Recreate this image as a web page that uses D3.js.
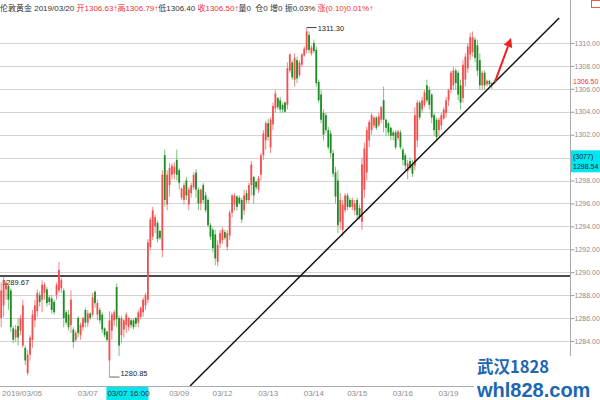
<!DOCTYPE html>
<html><head><meta charset="utf-8">
<script src="https://cdn.jsdelivr.net/npm/d3@7/dist/d3.min.js"></script>
<style>body{margin:0;background:#fff;}svg{display:block;}</style>
</head><body>
<svg id="c" width="600" height="400"></svg>
<script>
// ---- data ----
const opens = [1286.0,1287.1,1288.5,1288.8,1288.4,1285.1,1284.3,1285.3,1284.9,1283.6,1283.4,1281.2,1282.8,1284.1,1285.8,1286.6,1288.0,1287.6,1288.2,1288.5,1287.8,1287.7,1287.4,1288.0,1288.4,1288.6,1288.4,1286.5,1286.3,1285.4,1285.0,1284.1,1286.0,1284.5,1285.2,1286.7,1285.6,1286.4,1286.3,1288.3,1286.3,1286.7,1286.3,1285.1,1284.8,1282.3,1284.9,1285.8,1288.7,1286.0,1284.5,1285.0,1285.4,1285.2,1285.8,1285.8,1286.0,1285.6,1286.1,1286.5,1287.1,1287.6,1292.2,1293.1,1294.0,1294.3,1293.6,1291.9,1300.2,1295.9,1297.6,1298.5,1298.6,1299.8,1298.9,1296.5,1296.3,1298.0,1295.9,1296.9,1297.4,1298.7,1297.2,1296.0,1297.6,1296.7,1296.3,1294.1,1293.7,1293.3,1290.9,1292.5,1292.8,1293.5,1292.2,1293.2,1295.2,1295.9,1296.6,1296.5,1296.3,1295.4,1296.9,1296.3,1297.6,1298.3,1297.9,1297.2,1298.5,1300.2,1301.5,1303.0,1300.9,1302.9,1304.3,1305.2,1305.0,1304.6,1304.8,1304.6,1307.6,1308.3,1306.8,1308.5,1307.2,1308.1,1308.9,1309.4,1310.7,1309.1,1310.0,1309.4,1306.6,1305.5,1303.9,1303.7,1302.4,1302.1,1300.4,1298.7,1298.0,1294.4,1293.7,1295.4,1296.7,1296.3,1295.7,1295.4,1296.3,1295.6,1294.4,1297.2,1298.7,1301.5,1302.4,1302.8,1303.5,1302.8,1303.3,1305.0,1303.3,1303.0,1302.6,1302.2,1302.2,1301.7,1302.2,1300.7,1300.2,1298.8,1299.7,1299.4,1299.3,1301.5,1304.8,1304.2,1304.6,1306.3,1305.9,1305.5,1303.7,1303.3,1302.4,1302.8,1303.4,1303.9,1305.0,1305.9,1306.3,1307.6,1307.4,1306.3,1305.2,1306.8,1307.8,1309.0,1309.2,1310.3,1309.8,1308.5,1306.3,1307.4,1306.4,1306.7,1306.5,1306.63];
const highs = [1289.1,1289.6,1289.3,1289.0,1288.6,1285.3,1285.4,1286.0,1286.3,1287.6,1283.6,1283.2,1284.5,1286.7,1287.6,1288.5,1288.3,1289.3,1289.1,1288.7,1288.0,1288.0,1287.6,1289.1,1290.9,1289.5,1288.6,1286.7,1286.7,1288.4,1285.2,1284.9,1286.2,1285.6,1286.1,1286.9,1286.7,1286.5,1288.2,1288.4,1287.6,1286.9,1286.5,1285.2,1284.9,1286.6,1286.5,1286.7,1289.0,1286.2,1286.2,1285.9,1286.5,1286.1,1286.0,1286.0,1286.1,1286.7,1287.0,1287.8,1288.2,1292.9,1294.8,1295.7,1295.0,1294.5,1293.7,1298.9,1300.7,1298.9,1299.5,1299.5,1299.6,1300.7,1299.1,1297.4,1297.8,1298.3,1297.4,1297.8,1298.7,1299.0,1297.4,1297.3,1297.8,1297.0,1296.5,1294.3,1293.9,1293.7,1292.8,1293.7,1293.9,1293.7,1293.7,1295.4,1296.8,1296.9,1296.7,1296.7,1296.5,1297.2,1297.2,1297.8,1299.7,1298.4,1298.0,1298.4,1300.4,1302.4,1303.2,1303.4,1303.5,1304.8,1305.9,1305.3,1305.3,1304.8,1304.9,1308.3,1309.1,1308.5,1309.1,1308.8,1308.5,1309.1,1309.7,1311.3,1311.0,1309.8,1310.3,1309.7,1306.8,1305.9,1304.2,1303.9,1302.7,1302.4,1300.7,1299.2,1298.9,1296.9,1296.3,1296.9,1296.9,1296.5,1296.5,1296.3,1296.5,1295.9,1300.0,1301.3,1302.7,1303.3,1303.9,1303.6,1303.6,1303.9,1304.5,1306.2,1303.4,1303.1,1302.7,1302.4,1302.4,1302.4,1302.4,1300.9,1300.4,1299.8,1300.0,1299.8,1304.4,1305.0,1305.0,1305.3,1305.9,1306.8,1306.2,1305.6,1303.9,1303.5,1303.5,1303.9,1304.4,1305.3,1306.0,1307.6,1307.9,1307.8,1307.6,1306.8,1308.5,1309.1,1310.0,1310.9,1311.0,1310.5,1310.3,1309.1,1307.6,1307.6,1306.8,1306.8,1306.6,1306.79];
const lows = [1285.2,1286.1,1287.6,1286.7,1284.8,1283.8,1283.9,1283.6,1284.5,1283.4,1281.9,1281.0,1282.3,1283.4,1285.2,1286.1,1287.0,1286.5,1287.6,1287.0,1287.1,1286.4,1286.3,1287.6,1288.2,1288.2,1285.2,1285.4,1284.9,1284.7,1283.4,1283.9,1284.3,1284.1,1284.9,1285.2,1285.2,1285.8,1286.1,1286.9,1285.8,1285.5,1284.7,1284.3,1283.9,1280.85,1284.1,1285.3,1285.2,1282.7,1283.8,1284.3,1284.7,1284.9,1285.1,1285.0,1285.2,1285.2,1285.9,1286.1,1286.7,1287.3,1291.9,1292.8,1293.4,1292.6,1292.8,1291.3,1295.7,1295.4,1296.6,1298.1,1298.1,1298.0,1297.2,1296.3,1295.9,1296.3,1295.4,1296.5,1297.2,1296.5,1295.4,1295.4,1296.0,1295.2,1293.9,1292.8,1291.7,1290.6,1290.5,1292.1,1292.5,1292.8,1291.9,1292.8,1294.8,1295.4,1295.4,1295.9,1294.3,1295.0,1296.0,1296.0,1296.7,1296.0,1297.2,1296.9,1298.0,1299.8,1300.7,1301.5,1300.4,1302.4,1303.9,1304.2,1303.9,1303.9,1303.9,1304.2,1307.4,1306.8,1306.2,1306.5,1307.0,1307.9,1308.8,1309.1,1309.1,1308.9,1309.1,1306.2,1304.8,1303.0,1301.5,1302.1,1300.7,1300.0,1298.3,1296.0,1293.4,1293.7,1293.1,1295.2,1295.4,1295.6,1295.4,1295.0,1294.6,1294.6,1293.7,1296.5,1298.0,1300.9,1302.0,1302.6,1302.4,1302.7,1303.0,1302.2,1301.9,1301.9,1301.5,1301.5,1300.7,1301.5,1300.7,1299.3,1298.9,1298.1,1298.9,1298.3,1298.9,1300.9,1303.3,1303.9,1304.4,1304.8,1304.2,1303.0,1301.9,1301.5,1301.9,1302.4,1303.3,1303.5,1304.5,1305.6,1305.9,1305.9,1305.0,1304.2,1304.8,1306.2,1307.4,1308.5,1308.8,1308.3,1307.1,1305.9,1305.9,1305.9,1306.2,1306.2,1306.0,1306.40];
const closes = [1288.4,1289.3,1289.1,1287.6,1285.2,1284.1,1285.0,1284.3,1286.0,1287.1,1282.3,1282.8,1284.3,1286.3,1287.1,1288.2,1287.4,1288.9,1288.9,1287.3,1287.4,1286.7,1286.5,1288.9,1290.2,1289.3,1286.0,1285.6,1285.2,1287.6,1283.9,1284.7,1284.7,1285.4,1286.0,1285.6,1286.4,1286.0,1287.8,1287.3,1287.3,1285.8,1285.0,1284.5,1284.1,1285.8,1286.3,1286.5,1285.9,1283.6,1286.0,1285.8,1286.3,1286.0,1285.4,1285.2,1285.5,1286.5,1286.9,1287.6,1288.0,1292.6,1294.6,1295.4,1294.8,1292.9,1293.0,1298.5,1296.3,1298.5,1299.1,1299.3,1299.2,1298.5,1297.8,1297.3,1297.6,1296.7,1297.2,1297.6,1298.5,1297.2,1296.0,1297.2,1296.3,1295.4,1294.1,1293.1,1292.1,1291.2,1292.4,1293.4,1293.7,1293.0,1293.4,1295.2,1296.7,1296.7,1295.7,1296.0,1294.6,1296.7,1296.3,1297.6,1299.4,1296.7,1297.4,1298.2,1300.2,1302.1,1303.0,1301.8,1303.3,1304.5,1305.6,1304.4,1304.2,1304.2,1304.0,1307.8,1309.0,1307.0,1308.7,1306.9,1308.3,1309.0,1309.5,1311.0,1309.4,1309.6,1309.3,1306.5,1305.0,1303.3,1302.0,1302.4,1300.9,1300.4,1298.6,1296.6,1294.1,1296.3,1295.9,1296.7,1295.7,1295.7,1296.3,1296.0,1295.0,1294.8,1299.4,1300.8,1302.4,1303.1,1303.7,1303.5,1302.6,1303.6,1304.4,1303.3,1302.6,1302.2,1301.9,1301.9,1300.9,1302.3,1300.9,1299.8,1299.3,1299.5,1299.1,1298.6,1303.7,1304.8,1303.5,1305.0,1305.7,1305.0,1304.6,1303.5,1302.4,1301.8,1303.3,1303.7,1304.2,1305.0,1305.9,1307.4,1307.6,1306.5,1305.5,1304.8,1308.1,1308.8,1309.7,1310.5,1310.5,1308.7,1307.6,1306.3,1307.4,1306.3,1306.7,1306.4,1306.3,1306.50];

const yTicks = [1284,1286,1288,1290,1292,1294,1296,1298,1300,1302,1304,1306,1308,1310];
const xTickIdx = [0,31,69,87,106,125,143,162,181];
const xTickLabels = ["2019/03/05","03/07","03/09","03/12","03/13","03/14","03/15","03/16","03/19"];
const slotCount = 237;
const levelPrice = 1289.67;
const trendIdx = [78.5, 232.0];
const trendPrice = [1280.07, 1312.18];
const arrowIdx = [205.3, 212.0];
const arrowPrice = [1306.6, 1310.44];
const cursorIdx = 45;
const cursorLabel = "03/07 16:00";
const lastPrice = 1306.50;
const infoCount = "(3077)";
const infoPrice = 1298.54;
const headerParts = ["伦敦黄金 2019/03/20 ","开1306.63↑","高1306.79↑","低1306.40 ","收1306.50↑","量0  仓0 增0 振0.03% ","涨(0.10)0.01%↑"];
const headerRed = [false,true,true,false,true,false,true];
const wmLine1 = "武汉1828";
const wmLine2 = "whl828.com";

// ---- drawing ----
const W = 600, H = 400, plotR = 570, plotT = 18, plotB = 386;
const svg = d3.select("#c");
const RED = "#f25050", RED_W = "#f58585", GRN = "#1e8c24", GRN_W = "#7cc27c";
const x = d3.scaleLinear().domain([-0.5, slotCount - 0.5]).range([0, plotR]);
const y = d3.scaleLinear().domain([1280.07, 1312.18]).range([plotB, plotT]);
const font = "'Liberation Sans', 'Noto Sans CJK SC', sans-serif";
const axFont = `7px ${font}`;

svg.append("rect").attr("width", W).attr("height", H).attr("fill", "#fff");
svg.append("defs").append("clipPath").attr("id", "plot")
  .append("rect").attr("x", 0).attr("y", plotT - 2).attr("width", plotR).attr("height", plotB - plotT + 2);

// grid
svg.append("g").selectAll("line").data(yTicks).join("line")
  .attr("x1", 0).attr("x2", plotR)
  .attr("y1", d => Math.round(y(d)) + 0.5).attr("y2", d => Math.round(y(d)) + 0.5)
  .attr("stroke", "#d4d4d4").attr("stroke-width", 1);

// right axis (labels hidden under the info box are not drawn)
const boxTop = y(infoPrice) - 24, boxBot = y(infoPrice) - 2;
const hidden = d => (y(d) > boxTop - 3 && y(d) < boxBot + 3);
const ax = svg.append("g").attr("transform", `translate(${plotR + 0.5},0)`)
  .call(d3.axisRight(y).tickValues(yTicks).tickSize(4).tickPadding(0)
    .tickFormat(d => hidden(d) ? "" : d.toFixed(2)));
ax.select(".domain").remove();
ax.selectAll("line").attr("stroke", "#999");
ax.selectAll("text").attr("fill", "#8c8c8c").style("font", axFont);
svg.append("line").attr("x1", plotR + 0.5).attr("x2", plotR + 0.5).attr("y1", 0).attr("y2", H).attr("stroke", "#aaa");

// level line
svg.append("line").attr("x1", 0).attr("x2", plotR)
  .attr("y1", y(levelPrice)).attr("y2", y(levelPrice))
  .attr("stroke", "#111").attr("stroke-width", 1.6);
svg.append("text").attr("x", 2).attr("y", y(levelPrice) + 9).text(levelPrice.toFixed(2))
  .attr("fill", "#222").style("font", `7.5px ${font}`);

// candles
const data = opens.map((o, i) => ({ i, o, h: highs[i], l: lows[i], c: closes[i] }));
const cg = svg.append("g").attr("clip-path", "url(#plot)");
const bw = 1.8;
cg.selectAll("line.w").data(data).join("line").attr("class", "w")
  .attr("x1", d => x(d.i)).attr("x2", d => x(d.i))
  .attr("y1", d => y(d.h)).attr("y2", d => y(d.l))
  .attr("stroke", d => d.c >= d.o ? RED_W : GRN_W).attr("stroke-width", 1);
cg.selectAll("rect.b").data(data).join("rect").attr("class", "b")
  .attr("x", d => x(d.i) - bw / 2).attr("width", bw)
  .attr("y", d => y(Math.max(d.o, d.c)))
  .attr("height", d => Math.max(1, Math.abs(y(d.o) - y(d.c))))
  .attr("fill", d => d.c >= d.o ? RED : GRN);

// trend line
cg.append("line")
  .attr("x1", x(trendIdx[0])).attr("y1", y(trendPrice[0]))
  .attr("x2", x(trendIdx[1])).attr("y2", y(trendPrice[1]))
  .attr("stroke", "#111").attr("stroke-width", 1.5);

// high / low annotations
const iMax = d3.maxIndex(highs), iMin = d3.minIndex(lows);
svg.append("line").attr("x1", x(iMax)).attr("x2", x(iMax) + 10)
  .attr("y1", y(highs[iMax]) - 0.5).attr("y2", y(highs[iMax]) - 0.5).attr("stroke", "#444");
svg.append("text").attr("x", x(iMax) + 11).attr("y", y(highs[iMax]) + 2.5).text(highs[iMax].toFixed(2))
  .attr("fill", "#222").style("font", `7.5px ${font}`);
svg.append("line").attr("x1", x(iMin)).attr("x2", x(iMin) + 10)
  .attr("y1", y(lows[iMin])).attr("y2", y(lows[iMin])).attr("stroke", "#666");
svg.append("text").attr("x", x(iMin) + 11).attr("y", y(lows[iMin]) - 1).text(lows[iMin].toFixed(2))
  .attr("fill", "#222").style("font", `7.5px ${font}`);

// red arrow
{
  const x1 = x(arrowIdx[0]), y1 = y(arrowPrice[0]), x2 = x(arrowIdx[1]), y2 = y(arrowPrice[1]);
  const dx = x2 - x1, dy = y2 - y1, L = Math.hypot(dx, dy), ux = dx / L, uy = dy / L;
  const hl = 9, hw = 4.5, bx = x2 - ux * hl, by = y2 - uy * hl;
  svg.append("line").attr("x1", x1).attr("y1", y1).attr("x2", bx).attr("y2", by)
    .attr("stroke", "#f02020").attr("stroke-width", 2);
  svg.append("path").attr("d", `M${x2},${y2}L${bx - uy * hw},${by + ux * hw}L${bx + uy * hw},${by - ux * hw}Z`)
    .attr("fill", "#f02020");
}

// last price label
svg.append("text").attr("x", plotR + 3).attr("y", y(lastPrice) + 0.5).text(lastPrice.toFixed(2))
  .attr("fill", "#f03030").style("font", axFont);

// info box
{
  svg.append("rect").attr("x", plotR + 1).attr("y", boxTop).attr("width", W - plotR - 1).attr("height", boxBot - boxTop).attr("fill", "#00e6ef");
  svg.append("text").attr("x", plotR + 3).attr("y", boxTop + 9).text(infoCount).attr("fill", "#222").style("font", axFont);
  svg.append("text").attr("x", plotR + 3).attr("y", boxTop + 19).text(infoPrice.toFixed(2)).attr("fill", "#222").style("font", axFont);
}

// x axis strip
svg.append("line").attr("x1", 0).attr("x2", plotR).attr("y1", plotB + 0.5).attr("y2", plotB + 0.5).attr("stroke", "#aaa");
svg.append("g").selectAll("text").data(xTickIdx).join("text")
  .attr("x", (d, k) => k === 0 ? 2 : x(d) + 2).attr("y", 396)
  .text((d, k) => xTickLabels[k]).attr("fill", "#8c8c8c").style("font", `8px ${font}`);
{
  const cx = x(cursorIdx) - 3;
  svg.append("rect").attr("x", cx).attr("y", plotB + 1).attr("width", 42).attr("height", 13).attr("fill", "#00e6ef");
  svg.append("text").attr("x", cx + 1).attr("y", 396).text(cursorLabel).attr("fill", "#333").style("font", `8px ${font}`);
}

// header
const ht = svg.append("text").attr("x", 0).attr("y", 11).style("font", `8px ${font}`).attr("xml:space", "preserve");
headerParts.forEach((p, k) => ht.append("tspan").text(p).attr("fill", headerRed[k] ? "#f53030" : "#333"));
svg.append("rect").attr("x", 591.5).attr("y", 0.5).attr("width", 10).attr("height", 7).attr("fill", "none").attr("stroke", "#e55");

// watermark
svg.append("rect").attr("x", 474).attr("y", 356).attr("width", W - 474).attr("height", H - 356).attr("fill", "#fff");
svg.append("text").attr("x", 477).attr("y", 373).text(wmLine1).attr("fill", "#1c66b2")
  .style("font", `bold 16.5px 'Noto Sans CJK SC', sans-serif`);
svg.append("text").attr("x", 477).attr("y", 397).text(wmLine2).attr("fill", "#1c66b2")
  .style("font", `bold 20px 'Liberation Sans', sans-serif`);
</script>
</body></html>
